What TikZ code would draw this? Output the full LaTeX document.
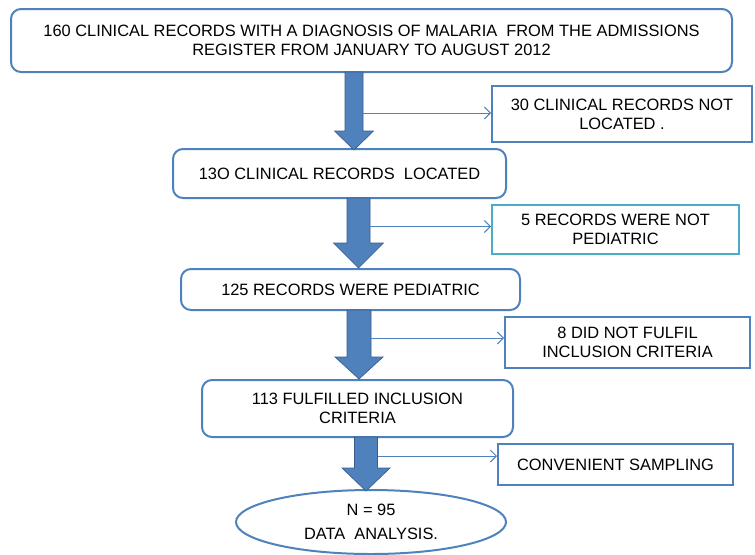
\documentclass[tikz,border=0pt]{standalone}
\usepackage{fontspec}
\setmainfont{Liberation Sans}
\usetikzlibrary{calc,shapes.geometric,arrows.meta}
\definecolor{obl}{HTML}{4F81BD}
\definecolor{obldark}{HTML}{385D8A}
\definecolor{ocy}{HTML}{4BACC6}
\tikzset{
  rbox/.style={draw=obl,line width=1.5pt,rounded corners=7.5pt,align=center,inner sep=0pt},
  sbox/.style={draw=obl,line width=1.5pt,align=center,inner sep=0pt},
  ebox/.style={draw=obl,line width=1.5pt,ellipse,align=center,inner sep=0pt},
  bigarrow/.style={fill=obl,draw=obldark,line width=0.5pt,line join=miter},
  thinarrow/.style={draw=obl,line width=0.7pt,-{Straight Barb[length=4.5pt,width=9pt,line width=0.7pt]}}
}
\newcommand{\blockarrow}[5]{% top coord, tip coord, head length (px), shaft half, head half
  \path[bigarrow] ($(#1)+(-#4,0)$) -- ($(#1)+(#4,0)$) -- ($(#2)+(#4,-#3)$) -- ($(#2)+(#5,-#3)$) -- (#2) -- ($(#2)+(-#5,-#3)$) -- ($(#2)+(-#4,-#3)$) -- cycle;}
\begin{document}
\begin{tikzpicture}[x=0.75pt,y=-0.75pt,font=\fontsize{12.3pt}{14.25pt}\selectfont]
\useasboundingbox (0,0) rectangle (755,554);
% nodes
\node[rbox,minimum width=540.75pt,minimum height=47.25pt] (b1) at (371.5,40.5)
  {160 CLINICAL RECORDS WITH A DIAGNOSIS OF MALARIA \ FROM THE ADMISSIONS\\REGISTER FROM JANUARY TO AUGUST 2012};
\node[sbox,minimum width=195pt,minimum height=42pt] (b2) at (622,114)
  {30 CLINICAL RECORDS NOT\\LOCATED .};
\node[rbox,minimum width=249.75pt,minimum height=36.75pt] (b3) at (339.5,173.5)
  {13O CLINICAL RECORDS \ LOCATED};
\node[sbox,draw=ocy,minimum width=185.25pt,minimum height=36.75pt] (b4) at (615.5,229.5)
  {5 RECORDS WERE NOT\\PEDIATRIC};
\node[rbox,minimum width=254.25pt,minimum height=30.75pt] (b5) at (350.5,289.5)
  {125 RECORDS WERE PEDIATRIC};
\node[sbox,minimum width=183.75pt,minimum height=38.25pt] (b6) at (627.5,342.5)
  {8 DID NOT FULFIL\\INCLUSION CRITERIA};
\node[rbox,minimum width=233.25pt,minimum height=42.75pt] (b7) at (357.5,408.5)
  {113 FULFILLED INCLUSION\\CRITERIA};
\node[sbox,minimum width=176.25pt,minimum height=30.75pt] (b8) at (615.5,464.5)
  {CONVENIENT SAMPLING};
\node[ebox,minimum width=202.5pt,minimum height=48pt] (e1) at (371,522)
  {N = 95\\[4pt]DATA \ ANALYSIS.};
% block arrows
\coordinate (a1top) at (354,72);  \coordinate (a1tip) at (354,150);
\coordinate (a2top) at (358.5,198); \coordinate (a2tip) at (358.5,268);
\coordinate (a3top) at (359,310); \coordinate (a3tip) at (359,379);
\coordinate (a4top) at (366,437); \coordinate (a4tip) at (366,491);
\blockarrow{a1top}{a1tip}{19}{9}{19.5}
\blockarrow{a2top}{a2tip}{25}{11.5}{25}
\blockarrow{a3top}{a3tip}{22}{12}{24}
\blockarrow{a4top}{a4tip}{23}{11.5}{24}
% thin arrows
\coordinate (t1) at (363,113);
\coordinate (t2) at (370,226.5);
\coordinate (t3) at (371,338);
\coordinate (t4) at (377.5,456);
\draw[thinarrow] (t1) -- (t1 -| b2.west);
\draw[thinarrow] (t2) -- (t2 -| b4.west);
\draw[thinarrow] (t3) -- (t3 -| b6.west);
\draw[thinarrow] (t4) -- (t4 -| b8.west);
\end{tikzpicture}
\end{document}
